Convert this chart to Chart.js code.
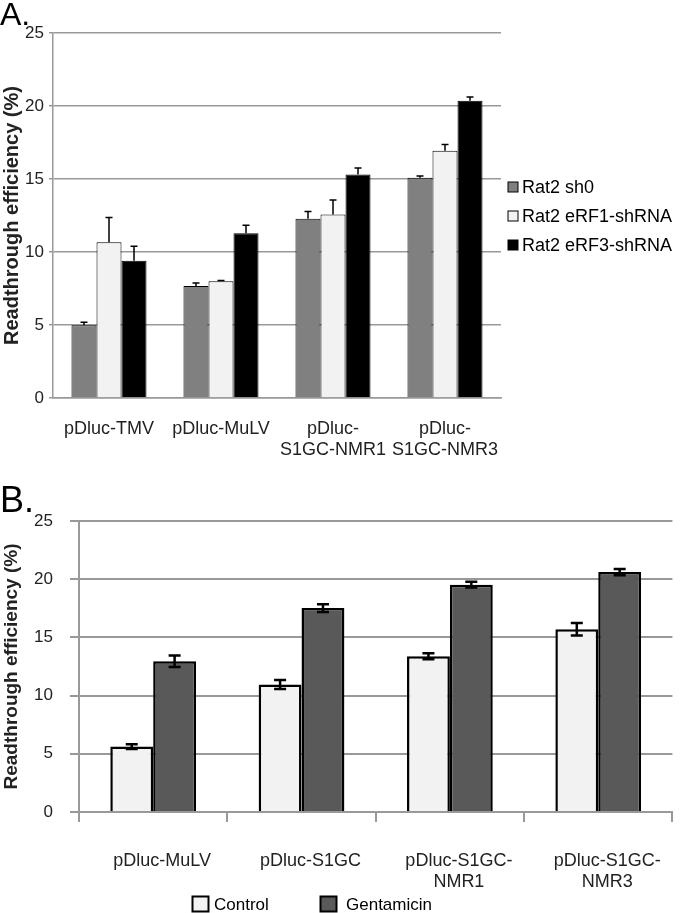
<!DOCTYPE html>
<html>
<head>
<meta charset="utf-8">
<script src="https://cdn.jsdelivr.net/npm/chart.js@4.4.0/dist/chart.umd.min.js"></script>
<style>
  body { margin: 0; background: #fff; }
  #wrap { position: relative; width: 680px; height: 913px; overflow: hidden; font-family: "Liberation Sans", Arial, sans-serif; }
  canvas { position: absolute; left: 0; }
  #cA { top: 0; }
  #cB { top: 460px; }
  .tag { position: absolute; left: 0; color: #000; line-height: 1; }
</style>
</head>
<body>
<div id="wrap">
  <canvas id="cA" width="680" height="460"></canvas>
  <canvas id="cB" width="680" height="453"></canvas>
  <div class="tag" style="top:-2px;font-size:32px">A.</div>
  <div class="tag" style="top:482px;font-size:36px">B.</div>
</div>
<script>
// panel A data
var categoriesA = ['pDluc-TMV', 'pDluc-MuLV', ['pDluc-', 'S1GC-NMR1'], ['pDluc-', 'S1GC-NMR3']];
var sh0 = [4.98, 7.67, 12.28, 15.09];
var sh0Err = [0.2, 0.2, 0.5, 0.12];
var eRF1 = [10.66, 7.99, 12.57, 16.94];
var eRF1Err = [1.7, 0.05, 1.0, 0.42];
var eRF3 = [9.4, 11.28, 15.3, 20.36];
var eRF3Err = [1.0, 0.55, 0.45, 0.25];

// panel B data
var categoriesB = ['pDluc-MuLV', 'pDluc-S1GC', ['pDluc-S1GC-', 'NMR1'], ['pDluc-S1GC-', 'NMR3']];
var control = [5.62, 10.95, 13.38, 15.7];
var controlErr = [0.2, 0.38, 0.25, 0.54];
var gentamicin = [12.95, 17.52, 19.53, 20.61];
var gentamicinErr = [0.49, 0.33, 0.25, 0.26];

var yMax = 25;
var yStep = 5;

Chart.defaults.font.family = "'Liberation Sans', Arial, sans-serif";
Chart.defaults.color = '#222';

// error whiskers drawn from the bars' own positions
var errorBars = {
  id: 'errorBars',
  afterDatasetsDraw: function(chart, args, opts) {
    var ctx = chart.ctx;
    var y = chart.scales.y;
    chart.data.datasets.forEach(function(ds, i) {
      var meta = chart.getDatasetMeta(i);
      meta.data.forEach(function(bar, j) {
        var v = ds.data[j], e = ds.errors[j];
        var top = y.getPixelForValue(v + e);
        var bot = opts.both ? y.getPixelForValue(v - e) : bar.y;
        ctx.save();
        ctx.strokeStyle = '#000';
        ctx.lineWidth = opts.width;
        ctx.beginPath();
        ctx.moveTo(bar.x, top); ctx.lineTo(bar.x, bot);
        ctx.moveTo(bar.x - opts.cap / 2, top); ctx.lineTo(bar.x + opts.cap / 2, top);
        if (opts.both) {
          ctx.moveTo(bar.x - opts.cap / 2, bot); ctx.lineTo(bar.x + opts.cap / 2, bot);
        }
        ctx.stroke();
        ctx.restore();
      });
    });
  }
};

// simple legend with boxes at given places
var boxLegend = {
  id: 'boxLegend',
  afterDraw: function(chart, args, opts) {
    var ctx = chart.ctx;
    ctx.save();
    ctx.font = opts.font;
    ctx.textBaseline = 'middle';
    chart.data.datasets.forEach(function(ds, i) {
      var p = opts.items[i];
      ctx.fillStyle = ds.backgroundColor;
      ctx.fillRect(p.x, p.y - opts.h / 2, opts.w, opts.h);
      ctx.strokeStyle = '#000';
      ctx.lineWidth = opts.lw;
      ctx.strokeRect(p.x, p.y - opts.h / 2, opts.w, opts.h);
      ctx.fillStyle = '#000';
      ctx.fillText(ds.label, p.tx, p.y + 1);
    });
    ctx.restore();
  }
};

var gridGray = '#999999';

new Chart(document.getElementById('cA'), {
  type: 'bar',
  data: {
    labels: categoriesA,
    datasets: [
      { label: 'Rat2 sh0', data: sh0, errors: sh0Err, backgroundColor: '#808080' },
      { label: 'Rat2 eRF1-shRNA', data: eRF1, errors: eRF1Err, backgroundColor: '#f2f2f2' },
      { label: 'Rat2 eRF3-shRNA', data: eRF3, errors: eRF3Err, backgroundColor: '#000000' }
    ]
  },
  options: {
    responsive: false,
    animation: false,
    devicePixelRatio: 1,
    layout: { padding: { top: 33, right: 179, left: 0, bottom: 0 } },
    datasets: { bar: { barPercentage: 1, categoryPercentage: 0.67, borderColor: '#000', borderWidth: 1 } },
    plugins: {
      legend: { display: false },
      tooltip: { enabled: false },
      errorBars: { both: false, width: 1.5, cap: 7 },
      boxLegend: {
        font: "18px 'Liberation Sans', Arial, sans-serif",
        w: 10, h: 10, lw: 1,
        items: [{ x: 508, tx: 522, y: 187 }, { x: 508, tx: 522, y: 216 }, { x: 508, tx: 522, y: 245 }]
      }
    },
    scales: {
      y: {
        min: 0, max: yMax,
        ticks: { stepSize: yStep, padding: 5, font: { size: 17 } },
        grid: { color: gridGray, lineWidth: 1.5, tickLength: 4 },
        border: { color: gridGray, width: 1.5 },
        title: { display: true, text: 'Readthrough efficiency (%)', font: { size: 20, weight: 'bold' }, padding: 0 },
        afterFit: function(s) { s.width = 53; }
      },
      x: {
        grid: { display: false },
        border: { color: gridGray, width: 1.5 },
        ticks: { padding: 12, font: { size: 18 }, maxRotation: 0, autoSkip: false },
        afterFit: function(s) { s.height = 62; }
      }
    }
  },
  plugins: [errorBars, boxLegend]
});

new Chart(document.getElementById('cB'), {
  type: 'bar',
  data: {
    labels: categoriesB,
    datasets: [
      { label: 'Control', data: control, errors: controlErr, backgroundColor: '#f2f2f2' },
      { label: 'Gentamicin', data: gentamicin, errors: gentamicinErr, backgroundColor: '#595959' }
    ]
  },
  options: {
    responsive: false,
    animation: false,
    devicePixelRatio: 1,
    layout: { padding: { top: 61, right: 2, left: 0, bottom: 0 } },
    datasets: { bar: { barPercentage: 1, categoryPercentage: 0.578, borderColor: '#000', borderWidth: 2.5 } },
    plugins: {
      legend: { display: false },
      tooltip: { enabled: false },
      errorBars: { both: true, width: 2.5, cap: 12 },
      boxLegend: {
        font: "17px 'Liberation Sans', Arial, sans-serif",
        w: 16, h: 15, lw: 2,
        items: [{ x: 192.5, tx: 214, y: 444 }, { x: 320.5, tx: 346, y: 444 }]
      }
    },
    scales: {
      y: {
        min: 0, max: yMax,
        ticks: { stepSize: yStep, padding: 17, font: { size: 17 } },
        grid: { color: gridGray, lineWidth: 2, tickLength: 9 },
        border: { color: gridGray, width: 2 },
        title: { display: true, text: 'Readthrough efficiency (%)', font: { size: 19, weight: 'bold' }, padding: 0 },
        afterFit: function(s) { s.width = 79; }
      },
      x: {
        grid: { drawOnChartArea: false, drawTicks: true, tickLength: 10, color: gridGray, lineWidth: 2 },
        border: { color: gridGray, width: 2 },
        ticks: { padding: 28, labelOffset: 9, font: { size: 18 }, maxRotation: 0, autoSkip: false },
        afterFit: function(s) { s.height = 101; }
      }
    }
  },
  plugins: [errorBars, boxLegend]
});
</script>
</body>
</html>
